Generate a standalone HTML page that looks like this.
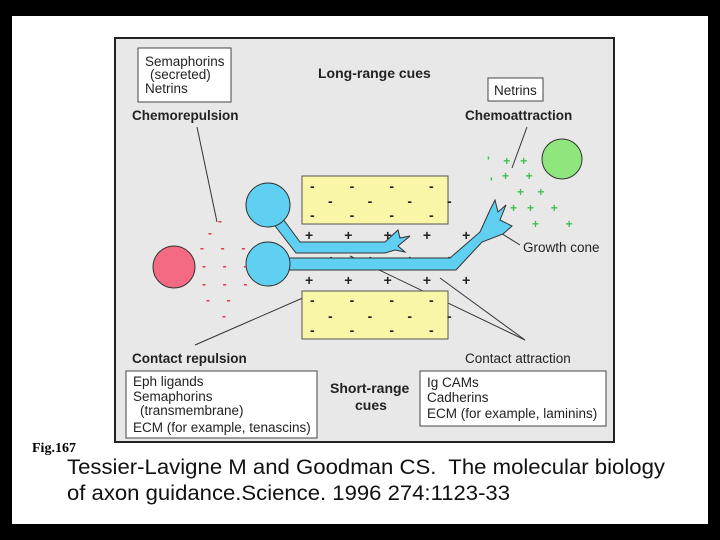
<!DOCTYPE html>
<html><head><style>
body{margin:0;background:#000;}
svg{display:block}
text{font-family:"Liberation Sans",sans-serif;white-space:pre}
</style></head><body>
<svg width="720" height="540" viewBox="0 0 720 540">
<rect x="0" y="0" width="720" height="540" fill="#000"/>
<rect x="12" y="16" width="696" height="508" fill="#fff"/>
<rect x="115" y="38" width="499" height="404" fill="#e8e8e8" stroke="#222" stroke-width="2"/>
<g font-size="13.5" fill="#222">
<rect x="138" y="48" width="93" height="54" fill="#fff" stroke="#444"/>
<text x="145" y="66">Semaphorins</text>
<text x="150" y="79">(secreted)</text>
<text x="145" y="93">Netrins</text>
<text x="318" y="78" font-weight="bold" font-size="14">Long-range cues</text>
<rect x="488" y="78" width="55" height="23" fill="#fff" stroke="#444"/>
<text x="494" y="95">Netrins</text>
<text x="132" y="120" font-weight="bold">Chemorepulsion</text>
<text x="465" y="120" font-weight="bold">Chemoattraction</text>
<text x="523" y="252">Growth cone</text>
<text x="132" y="363" font-weight="bold">Contact repulsion</text>
<text x="465" y="363">Contact attraction</text>
<rect x="126" y="371" width="191" height="67" fill="#fff" stroke="#444"/>
<text x="133" y="386">Eph ligands</text>
<text x="133" y="401">Semaphorins</text>
<text x="140" y="415">(transmembrane)</text>
<text x="133" y="432">ECM (for example, tenascins)</text>
<text x="330" y="393" font-weight="bold" font-size="14">Short-range</text>
<text x="355" y="410" font-weight="bold" font-size="14">cues</text>
<rect x="420" y="371" width="186" height="55" fill="#fff" stroke="#444"/>
<text x="427" y="387">Ig CAMs</text>
<text x="427" y="402">Cadherins</text>
<text x="427" y="418">ECM (for example, laminins)</text>
</g>
<g stroke="#333" stroke-width="1" fill="none">
<line x1="197" y1="127" x2="217" y2="222"/>
<line x1="527" y1="127" x2="512" y2="168"/>
<line x1="520" y1="245" x2="496" y2="230"/>
<line x1="195" y1="345" x2="305" y2="297"/>
<line x1="525" y1="340" x2="350" y2="256"/>
<line x1="525" y1="340" x2="440" y2="278"/>
</g>
<rect x="302" y="176" width="146" height="48" fill="#f9f6a8" stroke="#555"/>
<rect x="302" y="291" width="146" height="48" fill="#f9f6a8" stroke="#555"/>
<g font-size="14" font-weight="bold" fill="#222">
<text x="310" y="191">-         -         -         -</text>
<text x="328" y="206">-         -         -         -</text>
<text x="310" y="220">-         -         -         -</text>
<text x="310" y="305">-         -         -         -</text>
<text x="328" y="321">-         -         -         -</text>
<text x="310" y="335">-         -         -         -</text>
<text x="305" y="240">+        +        +        +        +</text>
<text x="327" y="265">+        +        +        +</text>
<text x="305" y="285">+        +        +        +        +</text>
</g>
<g fill="#5fd0f2" stroke="#333" stroke-width="1">
<path d="M280,215 L300,242 L385,242 L398,230 L400,238 L410,236 L398,246 L405,252 L395,250 L385,253 L296,253 L272,222 Z"/>
<path d="M268,258 L450,258 L480,232 L490,210 L495,200 L498,212 L506,205 L500,220 L512,226 L503,234 L482,242 L456,270 L268,270 Z"/>
<circle cx="268" cy="205" r="22"/>
<circle cx="268" cy="264" r="22"/>
<circle cx="174" cy="267" r="21" fill="#f46a82"/>
<circle cx="562" cy="159" r="20" fill="#8ee67c"/>
</g>
<g fill="#e03040" font-size="12" font-weight="bold">
<text x="218" y="225">-</text>
<text x="208" y="237">-</text>
<text x="200" y="252">-     -     -</text>
<text x="202" y="270">-     -     -</text>
<text x="202" y="288">-     -     -</text>
<text x="206" y="304">-     -</text>
<text x="222" y="320">-</text>
</g>
<g fill="#3cc050" font-size="12" font-weight="bold">
<text x="487" y="165">'    +   +</text>
<text x="502" y="180">+     +</text>
<text x="490" y="186">'</text>
<text x="517" y="196">+    +</text>
<text x="510" y="212">+   +     +</text>
<text x="532" y="228">+        +</text>
</g>
<text x="32" y="452" style="font-family:'Liberation Serif',serif" font-weight="bold" font-size="14">Fig.167</text>
<text x="67" y="474" font-size="21" fill="#111" textLength="598" lengthAdjust="spacingAndGlyphs">Tessier-Lavigne M and Goodman CS.  The molecular biology</text>
<text x="67" y="500" font-size="21" fill="#111" textLength="443" lengthAdjust="spacingAndGlyphs">of axon guidance.Science. 1996 274:1123-33</text>
</svg>
</body></html>
